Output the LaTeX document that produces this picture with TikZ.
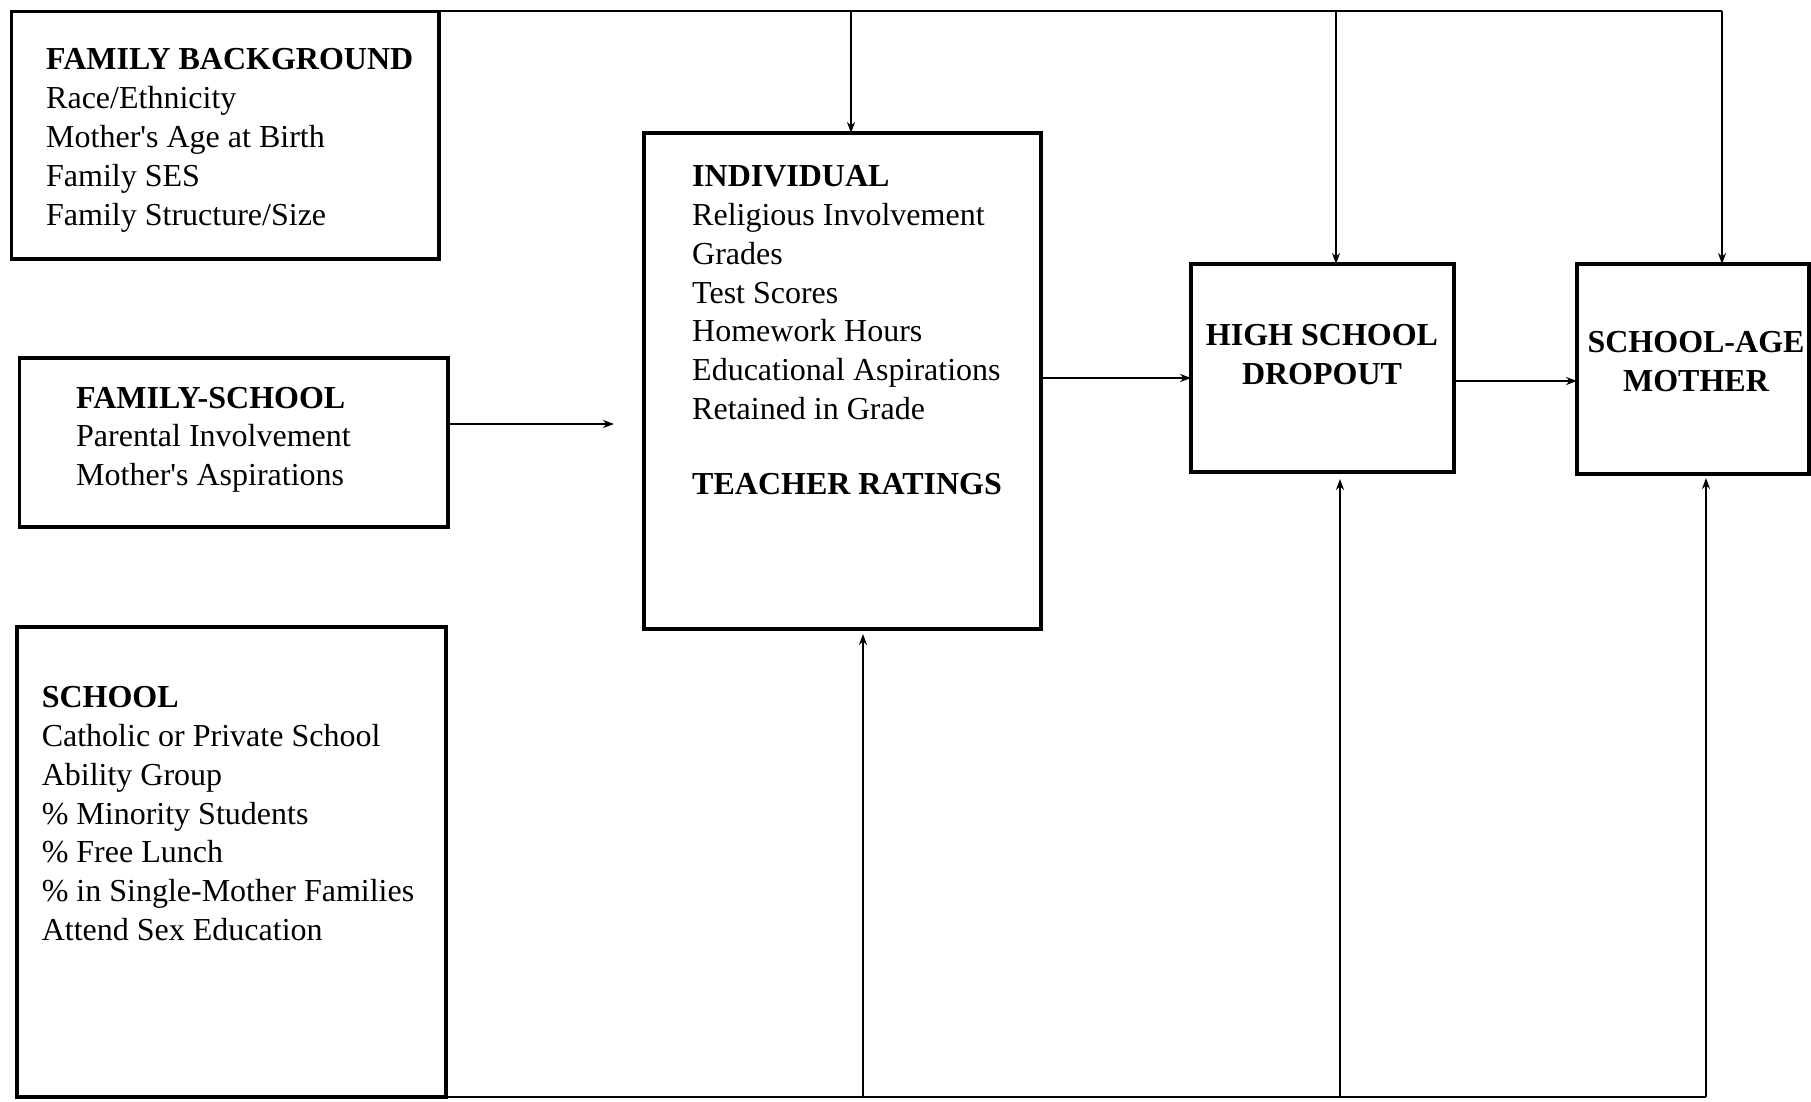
\documentclass[tikz,border=0pt]{standalone}
\usepackage{fontspec}
\setmainfont{Liberation Serif}
\usetikzlibrary{arrows.meta,calc}
\begin{document}
\begin{tikzpicture}[x=1pt,y=-1pt,
  box/.style={draw, line width=3.4pt, inner sep=0pt, outer sep=0pt, anchor=north west},
  txt/.style={anchor=north west, inner sep=0pt, align=left, font=\fontsize{32}{38.9}\selectfont},
  ctxt/.style={anchor=north, inner sep=0pt, align=center, font=\fontsize{32}{38.9}\selectfont\bfseries},
  link/.style={line width=2pt},
  arr/.style={line width=1.8pt, -{Stealth[length=11pt,width=8pt]}},
]
\useasboundingbox (0,0) rectangle (1811,1102);

% boxes
\node[box, minimum width=427.5pt, minimum height=247.5pt] (FB) at (11.5,11.5) {};
\node[box, minimum width=428.4pt, minimum height=169pt] (FS) at (19.6,358) {};
\node[box, minimum width=397pt, minimum height=496pt] (IND) at (644,133) {};
\node[box, minimum width=263pt, minimum height=208pt] (HSD) at (1191,264) {};
\node[box, minimum width=232pt, minimum height=210pt] (SAM) at (1577,264) {};
\node[box, minimum width=429pt, minimum height=470pt] (SCH) at (17,627) {};

% texts
\node[txt] (FBt) at (46,48.3) {\textbf{FAMILY BACKGROUND}\\Race/Ethnicity\\Mother\textquotesingle s Age at Birth\\Family SES\\Family Structure/Size};
\node[txt] (FSt) at (76,386.7) {\textbf{FAMILY-SCHOOL}\\Parental Involvement\\Mother\textquotesingle s Aspirations};
\node[txt] (INDt) at (692,165) {\textbf{INDIVIDUAL}\\Religious Involvement\\Grades\\Test Scores\\Homework Hours\\Educational Aspirations\\Retained in Grade\\[36pt]\textbf{TEACHER RATINGS}};
\node[txt] (SCHt) at (41.6,686) {\textbf{SCHOOL}\\Catholic or Private School\\Ability Group\\\% Minority Students\\\% Free Lunch\\\% in Single-Mother Families\\Attend Sex Education};
\node[ctxt] (HSDt) at (1322,324.5) {HIGH SCHOOL\\DROPOUT};
\node[ctxt] (SAMt) at (1696,331) {SCHOOL-AGE\\MOTHER};

% helper coordinates
\coordinate (t1) at (851,11.5);
\coordinate (t2) at (1336,11.5);
\coordinate (t3) at (1722,11.5);
\coordinate (b1) at (863,1097);
\coordinate (b2) at (1340,1097);
\coordinate (b3) at (1706,1097);
\coordinate (fsY) at (0,424);
\coordinate (iY) at (0,378);
\coordinate (hY) at (0,381);

% top line and down arrows
\draw[link] (FB.north east) -- (t3);
\draw[arr] (t1) -- (t1 |- IND.north);
\draw[arr] (t2) -- (t2 |- HSD.north);
\draw[arr] (t3) -- (t3 |- SAM.north);

% bottom line and up arrows
\draw[link] (SCH.south east) -- (b3);
\draw[arr, shorten >=5pt] (b1) -- (b1 |- IND.south);
\draw[arr, shorten >=7pt] (b2) -- (b2 |- HSD.south);
\draw[arr, shorten >=4pt] (b3) -- (b3 |- SAM.south);

% horizontal arrows
\draw[arr, shorten >=30pt] (FS.east |- fsY) -- (IND.west |- fsY);
\draw[arr] (IND.east |- iY) -- (HSD.west |- iY);
\draw[arr] (HSD.east |- hY) -- (SAM.west |- hY);
\end{tikzpicture}
\end{document}
